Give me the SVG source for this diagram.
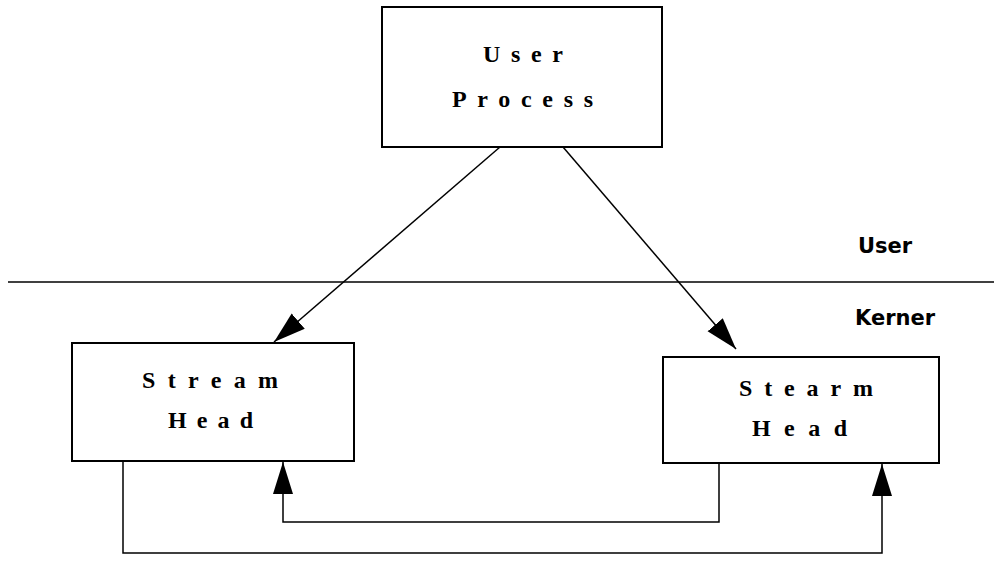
<svg xmlns="http://www.w3.org/2000/svg" width="994" height="585" viewBox="0 0 994 585">
<style>
.box{fill:#fff;stroke:#000;stroke-width:2}
.t{font-family:"Liberation Serif","Times New Roman",serif;font-weight:bold;font-size:24px;fill:#000}
.lbl{font-family:"DejaVu Sans","Liberation Sans",Arial,sans-serif;font-weight:bold;font-size:21px;fill:#000}
.ln{fill:none;stroke:#000;stroke-width:1.5}
</style>
<defs>
<marker id="ah" markerUnits="userSpaceOnUse" markerWidth="34" markerHeight="22" viewBox="0 0 34 22" refX="32" refY="10" orient="auto">
<path d="M0,0 L32,10 L0,20 Z" fill="#000"/>
</marker>
</defs>
<line x1="8" y1="282" x2="994" y2="282" stroke="#000" stroke-width="1.5"/>
<text class="lbl" x="858" y="253">User</text>
<text class="lbl" x="855" y="325">Kerner</text>
<g id="user-process">
<rect class="box" x="382" y="7" width="280" height="140"/>
<text class="t" x="483" y="62" textLength="80" lengthAdjust="spacing">User</text>
<text class="t" x="452" y="107" textLength="141" lengthAdjust="spacing">Process</text>
</g>
<g id="stream-head-left">
<rect class="box" x="72" y="343" width="282" height="118"/>
<text class="t" x="142" y="388" textLength="136" lengthAdjust="spacing">Stream</text>
<text class="t" x="168" y="428" textLength="85" lengthAdjust="spacing">Head</text>
</g>
<g id="stearm-head-right">
<rect class="box" x="663" y="357" width="276" height="106"/>
<text class="t" x="739" y="396" textLength="134" lengthAdjust="spacing">Stearm</text>
<text class="t" x="752" y="436" textLength="95" lengthAdjust="spacing">Head</text>
</g>
<g id="connectors">
<line class="ln" x1="500" y1="147" x2="274" y2="342" marker-end="url(#ah)"/>
<line class="ln" x1="563" y1="147" x2="736" y2="349" marker-end="url(#ah)"/>
<polyline class="ln" points="719,463 719,522 283,522 283,462" marker-end="url(#ah)"/>
<polyline class="ln" points="123,461 123,553 882,553 882,464" marker-end="url(#ah)"/>
</g>
</svg>
